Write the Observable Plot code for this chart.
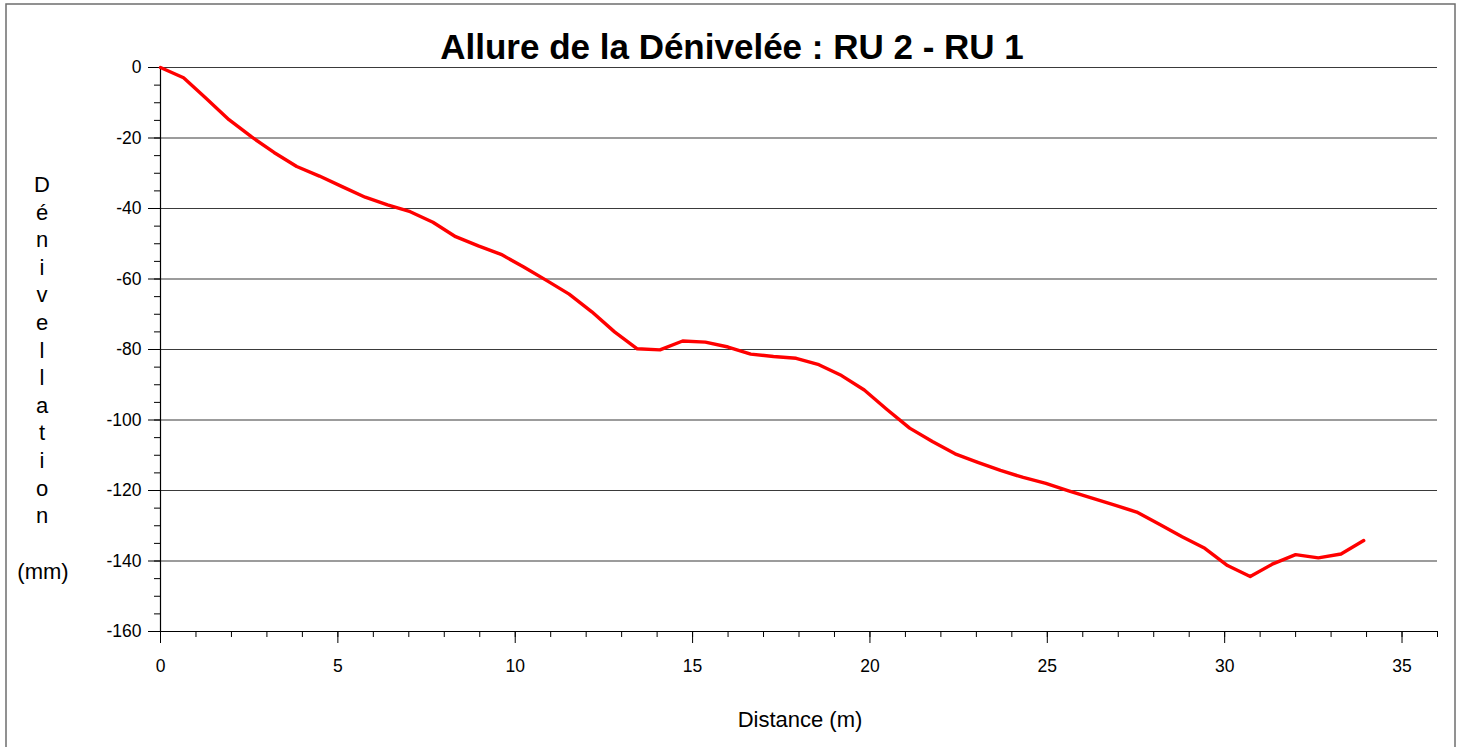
<!DOCTYPE html>
<html>
<head>
<meta charset="utf-8">
<script src="https://cdn.jsdelivr.net/npm/d3@7"></script>
<script src="https://cdn.jsdelivr.net/npm/@observablehq/plot@0.6"></script>
<style>
  html, body { margin: 0; padding: 0; background: #fff; }
  #chart svg { display: block; font-family: "Liberation Sans", Arial, sans-serif; }
</style>
</head>
<body>
<div id="chart"></div>
<script>
// Distance (m)
const distance = [0, 0.65, 1.29, 1.93, 2.57, 3.2, 3.84, 4.48, 5.12, 5.77, 6.4, 7.04, 7.68, 8.32,
  8.96, 9.6, 10.24, 10.88, 11.52, 12.16, 12.8, 13.44, 14.08, 14.72, 15.36, 16.0, 16.64, 17.28,
  17.92, 18.56, 19.2, 19.84, 20.48, 21.12, 21.76, 22.4, 23.04, 23.68, 24.32, 24.96, 25.6, 26.24,
  26.88, 27.52, 28.16, 28.8, 29.44, 30.08, 30.72, 31.36, 32.0, 32.64, 33.28, 33.92];
// Dénivellation (mm)
const denivellation = [0, -2.9, -8.8, -14.8, -19.7, -24.1, -28.1, -30.8, -33.8, -36.8, -39.0,
  -40.9, -43.9, -48.0, -50.6, -53.0, -56.6, -60.4, -64.3, -69.3, -75.0, -79.8, -80.1, -77.6,
  -77.9, -79.3, -81.3, -82.0, -82.5, -84.3, -87.4, -91.5, -97.0, -102.3, -106.1, -109.6,
  -112.0, -114.3, -116.3, -118.0, -120.1, -122.1, -124.1, -126.1, -129.6, -133.1, -136.4,
  -141.3, -144.4, -140.8, -138.2, -139.1, -138.0, -134.2];

const yMajorTicks = [0, -20, -40, -60, -80, -100, -120, -140, -160];
const yMinorTicks = d3.range(0, -161, -5);
const xMajorTicks = [0, 5, 10, 15, 20, 25, 30, 35];
const xMinorTicks = d3.range(0, 37, 1);

const titleText = "Allure de la Dénivelée : RU 2 - RU 1";
const yLabelLetters = ["D", "é", "n", "i", "v", "e", "l", "l", "a", "t", "i", "o", "n"];
const yLabelUnit = "(mm)";
const xLabelText = "Distance (m)";

const data = distance.map((d, i) => ({x: d, y: denivellation[i]}));

const W = 1461, H = 747;
const chart = Plot.plot({
  width: W,
  height: H,
  marginLeft: 160,
  marginRight: 24,
  marginTop: 67,
  marginBottom: 116,
  style: {fontFamily: "Liberation Sans, Arial, sans-serif", fontSize: "17.5px", color: "#000", background: "#fff"},
  x: {domain: [0, 36], label: null},
  y: {domain: [-160, 0], label: null},
  marks: [
    Plot.ruleY(yMajorTicks, {stroke: "#3a3a3a", strokeWidth: 1.2}),
    Plot.axisY({ticks: yMinorTicks, tickSize: 6, tickFormat: () => "", stroke: "#000", strokeOpacity: 1, label: null}),
    Plot.axisY({ticks: yMajorTicks, tickSize: 12, tickPadding: 7, tickFormat: d => String(d), fontSize: 17.5, stroke: "#000", strokeOpacity: 1, label: null}),
    Plot.axisX({ticks: xMinorTicks, tickSize: 6, tickFormat: () => "", stroke: "#000", strokeOpacity: 1, label: null}),
    Plot.axisX({ticks: xMajorTicks, tickSize: 12, tickPadding: 16, tickFormat: d => String(d), fontSize: 17.5, stroke: "#000", strokeOpacity: 1, label: null}),
    Plot.ruleX([0], {stroke: "#000", strokeWidth: 1.2}),
    Plot.ruleY([-160], {stroke: "#000", strokeWidth: 1.2}),
    Plot.line(data, {x: "x", y: "y", stroke: "#ff0000", strokeWidth: 3.4, strokeLinejoin: "round"})
  ]
});
document.getElementById("chart").appendChild(chart);

const svg = d3.select(chart);
// outer frame
svg.append("rect")
  .attr("x", 6).attr("y", 4).attr("width", 1449).attr("height", 760)
  .attr("fill", "none").attr("stroke", "#6e6e6e").attr("stroke-width", 1.5);
// title
svg.append("text")
  .attr("x", 732).attr("y", 59)
  .attr("text-anchor", "middle")
  .attr("font-family", "Liberation Sans, Arial, sans-serif")
  .attr("font-weight", "bold").attr("font-size", 35)
  .attr("fill", "#000")
  .text(titleText);
// y label (stacked letters)
yLabelLetters.forEach((ch, i) => {
  svg.append("text")
    .attr("x", 42).attr("y", 192 + i * 27.6)
    .attr("text-anchor", "middle")
    .attr("font-family", "Liberation Sans, Arial, sans-serif")
    .attr("font-size", 22).attr("fill", "#000")
    .text(ch);
});
svg.append("text")
  .attr("x", 43).attr("y", 579)
  .attr("text-anchor", "middle")
  .attr("font-family", "Liberation Sans, Arial, sans-serif")
  .attr("font-size", 22).attr("fill", "#000")
  .text(yLabelUnit);
// x label
svg.append("text")
  .attr("x", 800).attr("y", 727)
  .attr("text-anchor", "middle")
  .attr("font-family", "Liberation Sans, Arial, sans-serif")
  .attr("font-size", 22).attr("fill", "#000")
  .text(xLabelText);
</script>
</body>
</html>
